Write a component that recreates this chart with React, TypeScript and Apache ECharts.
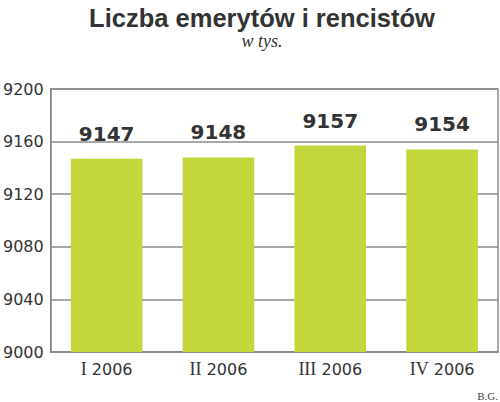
import React, { useEffect, useRef } from "react";
import * as echarts from "echarts";

const categories = ["I 2006", "II 2006", "III 2006", "IV 2006"];
const values = [9147, 9148, 9157, 9154];
const yTicks = [9000, 9040, 9080, 9120, 9160, 9200];

export default function App() {
  const ref = useRef<HTMLDivElement>(null);
  useEffect(() => {
    if (!ref.current) return;
    const chart = echarts.init(ref.current, undefined, { renderer: "svg" });
    chart.setOption({
      animation: false,
      backgroundColor: "#ffffff",
      graphic: [
        {
          type: "text",
          x: 262,
          y: 5,
          style: {
            text: "Liczba emerytów i rencistów",
            font: "bold 25.5px 'Liberation Sans'",
            fill: "#333333",
            align: "center",
            verticalAlign: "top",
          },
        },
        {
          type: "text",
          x: 262,
          y: 32,
          style: {
            text: "w tys.",
            font: "italic 18px 'Liberation Serif'",
            fill: "#333333",
            align: "center",
            verticalAlign: "top",
          },
        },
        {
          type: "text",
          x: 498,
          y: 390,
          style: {
            text: "B.G.",
            font: "11px 'Liberation Serif'",
            fill: "#444444",
            align: "right",
            verticalAlign: "top",
          },
        },
      ],
      grid: {
        left: 48,
        right: 2,
        top: 89,
        bottom: 50,
        show: true,
        borderColor: "#8a8a8a",
        borderWidth: 1.5,
        backgroundColor: "transparent",
      },
      xAxis: {
        type: "category",
        data: categories,
        axisLine: { show: true, lineStyle: { color: "#8a8a8a", width: 1.5 } },
        axisTick: { show: false },
        axisLabel: {
          interval: 0,
          hideOverlap: false,
          fontFamily: "DejaVu Sans",
          fontSize: 16,
          color: "#333333",
          margin: 8,
          formatter: (v: string) => {
            const [r, y] = v.split(" ");
            return `{r|${r}} {y|${y}}`;
          },
          rich: {
            r: { fontFamily: "Liberation Serif", fontSize: 18, color: "#333333" },
            y: { fontFamily: "DejaVu Sans", fontSize: 16, color: "#333333" },
          },
        },
      },
      yAxis: {
        type: "value",
        min: yTicks[0],
        max: yTicks[yTicks.length - 1],
        interval: 40,
        axisLine: { show: true, lineStyle: { color: "#8a8a8a", width: 1.5 } },
        axisTick: { show: false },
        splitLine: { show: true, lineStyle: { color: "#8a8a8a", width: 1.5 } },
        axisLabel: {
          fontFamily: "DejaVu Sans",
          fontSize: 16,
          color: "#333333",
          margin: 7,
          formatter: (v: number) => String(v),
        },
      },
      series: [
        {
          type: "bar",
          data: values,
          barWidth: "64%",
          itemStyle: { color: "#c3d63b" },
          label: {
            show: true,
            position: "top",
            distance: 15,
            fontFamily: "DejaVu Sans",
            fontWeight: "bold",
            fontSize: 20,
            color: "#333333",
          },
        },
      ],
    });
    return () => chart.dispose();
  }, []);
  return <div ref={ref} style={{ width: 500, height: 402, position: "absolute", left: 0, top: 0 }} />;
}
